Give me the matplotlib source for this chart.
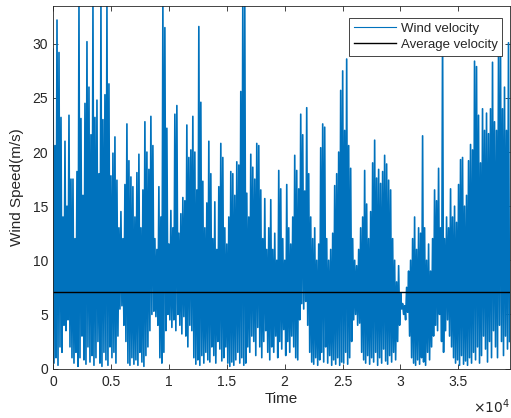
import numpy as np
import matplotlib
matplotlib.use("Agg")
import matplotlib.pyplot as plt

plt.rcParams['font.family'] = ['Liberation Sans', 'DejaVu Sans']

# upper and lower envelope of the wind record, one pair every ~173 samples
speed_hi = [
    29.5, 20.6, 32.2, 29.2, 23.2, 14, 21, 15, 23.4, 17.5,
    17.5, 12, 18.2, 33.5, 23.1, 16, 24.5, 30.2, 26, 21.6,
    33.5, 23.2, 24.8, 18, 33.5, 23, 25.3, 33.5, 26.3, 17.8,
    19.9, 21.4, 17.4, 13, 14.5, 12, 17, 22.6, 19.2, 17.7,
    16.8, 14, 18.1, 19.8, 13, 16.5, 22.8, 20, 18.4, 23.3,
    20.6, 12, 11, 16.8, 14, 33.5, 31.5, 22.2, 11.5, 14.6,
    13, 23.5, 24.3, 12.5, 14.3, 15.8, 15.5, 22.5, 19.5, 20.2,
    23.3, 20, 16.5, 31.6, 24.6, 17.3, 13, 15.3, 21, 18,
    12, 15.4, 11, 16.8, 20.8, 19.5, 13, 11.5, 14, 18.2,
    18, 16, 19.1, 18.8, 25.6, 33.5, 33.5, 16.2, 14, 19.8,
    18.6, 17.5, 20.8, 20.6, 16.5, 12, 15.7, 11, 13, 15.6,
    11, 12.5, 10, 18.3, 16.6, 12, 10, 17, 13, 11.5,
    14, 19.7, 18.3, 16.6, 23.5, 21.6, 16.4, 24.1, 18, 14,
    12, 13, 10, 11.5, 20.4, 22.6, 22.3, 12, 10, 11,
    12.5, 16.9, 18, 20, 25.7, 27.5, 22, 28.6, 20.6, 18.5,
    12, 10, 9.5, 11, 13, 14, 18.3, 15.2, 12, 14.5,
    19, 21.1, 17.6, 18.4, 17.1, 18.2, 19.7, 18.9, 17.4, 16.5,
    12, 10, 8, 9.5, 7, 6, 5.8, 7.5, 9, 10,
    12, 14, 11, 13, 12.5, 21.5, 13, 10, 11.5, 9,
    12, 16.5, 15.5, 18.5, 13, 31, 12, 14, 13, 16.6,
    14, 15, 13.5, 17, 19.3, 19.5, 15, 16, 19.2, 20.7,
    20.2, 28.4, 27.9, 23.4, 19, 24, 22, 23.6, 21.7, 24,
    28.3, 22.8, 22, 28.9, 29.7, 24, 26, 22, 30.1,
]
speed_lo = [
    0.5, 1, 0.3, 2, 1.5, 4, 3.5, 4.5, 2, 1,
    0.5, 1.5, 0.2, 1, 3, 0.8, 0.4, 2, 0.6, 1.2,
    0.3, 1, 2.5, 0.5, 0.2, 1.5, 0.8, 0.3, 2, 1,
    1.5, 0.5, 3, 5.5, 5.8, 4, 2.5, 0.5, 0.3, 1,
    0.4, 0.8, 0.3, 1.5, 0.6, 0.2, 1.2, 2, 3.5, 5,
    5.3, 4.8, 4, 1, 0.5, 1.5, 3.5, 5, 4.5, 3.8,
    4.5, 3.5, 5, 4, 3.2, 4.8, 3, 2, 4, 3.5,
    1, 0.4, 0.8, 0.3, 1.2, 0.5, 1.5, 0.8, 0.6, 2,
    1.2, 0.5, 2.5, 1.8, 0.7, 1, 2, 0.5, 0.2, 0.6,
    0.3, 0.8, 1.5, 0.5, 1, 0.3, 0.5, 2, 1.5, 3,
    2.5, 1.2, 3.8, 2, 1, 2.5, 3.5, 1.5, 0.8, 2,
    1.5, 3, 1, 2.5, 1.8, 3.6, 1.2, 2.5, 1.5, 3,
    2, 1, 0.8, 4.5, 6, 5.5, 6.2, 4, 1.5, 0.6,
    0.4, 1, 0.3, 0.8, 1.5, 0.6, 2, 0.5, 1.2, 0.3,
    0.8, 0.4, 1, 0.3, 0.6, 0.5, 1.5, 0.4, 1, 2.5,
    4.5, 5, 4, 4.2, 1.5, 0.8, 0.5, 1.2, 0.4, 1,
    0.6, 1.5, 0.3, 1, 0.5, 1.8, 0.7, 0.4, 1.2, 0.6,
    1.5, 0.8, 2.5, 4, 5.5, 5, 4.5, 5.2, 3, 1,
    0.5, 0.3, 0.8, 0.4, 1, 0.6, 0.3, 1.5, 0.8, 2,
    3, 4, 3.5, 5, 2.5, 1.5, 3.5, 4.5, 3, 2,
    1, 0.5, 0.8, 0.3, 1.2, 0.4, 0.7, 0.3, 1, 0.5,
    1.5, 0.8, 2, 0.5, 1.2, 3, 1.8, 0.6, 2.5, 1,
    3.5, 2, 1, 4, 2.5, 1.2, 3, 1.8, 2.5,
]
avg_speed = 7.03
n_samples = 39420

xticks = [0, 5000, 10000, 15000, 20000, 25000, 30000, 35000]
xticklabels = ['0', '0.5', '1', '1.5', '2', '2.5', '3', '3.5']
yticks = [0, 5, 10, 15, 20, 25, 30]

# hi and lo alternate to give the dense trace
speed = np.empty(2 * len(speed_hi))
speed[0::2] = speed_hi
speed[1::2] = speed_lo
time = np.linspace(0, n_samples, len(speed))

fig = plt.figure(figsize=(5.11, 4.18), dpi=100)
ax = fig.add_axes([53 / 511, 49.5 / 418, 456.5 / 511, 362.5 / 418])

ax.plot(time, speed, color='#0072BD', lw=1.2, label='Wind velocity')
ax.plot([0, n_samples], [avg_speed, avg_speed], color='black', lw=1.0,
        label='Average velocity')

ax.set_xlim(0, n_samples)
ax.set_ylim(0, 33.5)
ax.set_xticks(xticks)
ax.set_xticklabels(xticklabels)
ax.set_yticks(yticks)

gray = '#262626'
for s in ax.spines.values():
    s.set_color(gray)
    s.set_linewidth(0.6)
ax.tick_params(direction='in', length=3.5, width=0.6, colors=gray,
               labelsize=10, top=True, right=True)
ax.tick_params(axis='x', pad=5)

ax.set_xlabel('Time', fontsize=11, color=gray, labelpad=2)
ax.set_ylabel('Wind Speed(m/s)', fontsize=11, color=gray, labelpad=6)
ax.text(1.0, -0.08, r'$\times10^{4}$', transform=ax.transAxes,
        ha='right', va='top', fontsize=10, color=gray)

leg = ax.legend(loc='upper right', bbox_to_anchor=(0.984, 0.967),
                borderaxespad=0, fontsize=9.5, fancybox=False, framealpha=1,
                handlelength=3.2, handletextpad=0.35, labelspacing=0.3,
                borderpad=0.35)
leg.get_frame().set_edgecolor(gray)
leg.get_frame().set_linewidth(0.6)
leg.get_lines()[0].set_linewidth(0.8)
for t in leg.get_texts():
    t.set_color(gray)

fig.savefig('out.png', dpi=100)
